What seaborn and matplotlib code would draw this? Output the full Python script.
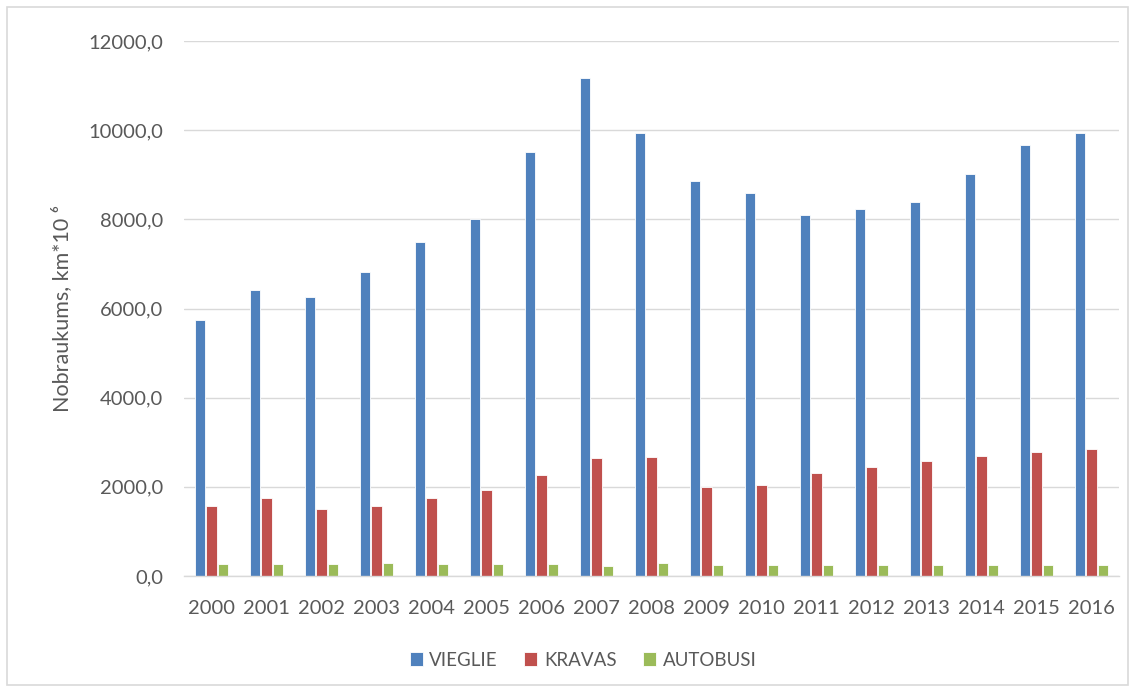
import numpy as np
import pandas as pd
import matplotlib
matplotlib.use("Agg")
import matplotlib.pyplot as plt
from matplotlib.patches import Rectangle
from matplotlib.ticker import FuncFormatter
import seaborn as sns

years = [str(y) for y in range(2000, 2017)]
vieglie = [5750, 6410, 6260, 6810, 7500, 8000, 9520, 11170, 9930,
           8870, 8580, 8090, 8240, 8380, 9010, 9670, 9930]
kravas = [1580, 1760, 1500, 1580, 1760, 1930, 2270, 2645, 2675,
          1990, 2050, 2300, 2445, 2590, 2700, 2790, 2850]
autobusi = [262, 262, 262, 291, 262, 262, 262, 233, 300,
            242, 242, 242, 242, 242, 242, 242, 242]
series_names = ["VIEGLIE", "KRAVAS", "AUTOBUSI"]
colors = ["#4F81BD", "#C0504D", "#9BBB59"]

df = pd.DataFrame({
    "year": years * 3,
    "value": vieglie + kravas + autobusi,
    "series": np.repeat(series_names, len(years)),
})

sns.set_theme(style="white")
plt.rcParams["font.family"] = ["Lato", "DejaVu Sans"]
text_color = "#595959"

fig = plt.figure(figsize=(11.35, 6.92), dpi=100)
ax = fig.add_axes([184 / 1135, 1 - 576 / 692, (1119 - 184) / 1135, (576 - 41) / 692])

sns.barplot(data=df, x="year", y="value", hue="series", palette=colors,
            saturation=1, width=0.65, gap=0.15, ax=ax, edgecolor="white",
            linewidth=0.6, legend=True)

ax.set_ylim(0, 12000)
ax.set_yticks(np.arange(0, 12001, 2000))
ax.yaxis.set_major_formatter(FuncFormatter(lambda v, p: f"{v:.1f}".replace(".", ",")))
ax.grid(axis="y", color="#D9D9D9", linewidth=1)
ax.set_axisbelow(True)
for s in ["top", "right", "left"]:
    ax.spines[s].set_visible(False)
ax.spines["bottom"].set_color("#D9D9D9")
ax.spines["bottom"].set_linewidth(1)
ax.tick_params(axis="both", length=0, labelsize=14.5, colors=text_color)
ax.tick_params(axis="y", pad=15)
ax.tick_params(axis="x", pad=17)
ax.set_xlabel("")
ax.set_ylabel("Nobraukums, km*10 ⁶", fontsize=15.5, color=text_color, labelpad=12)

handles, labels = ax.get_legend_handles_labels()
ax.get_legend().remove()
fig.legend(handles, labels, loc="center", bbox_to_anchor=(583 / 1135, 1 - 660 / 692),
           ncol=3, frameon=False, fontsize=13.5, labelcolor=text_color,
           handlelength=0.7, handleheight=0.7, handletextpad=0.35, columnspacing=1.4)

fig.patches.append(Rectangle((7 / 1135, 7 / 692), 1 - 14 / 1135, 1 - 14 / 692,
                             transform=fig.transFigure, fill=False,
                             edgecolor="#D9D9D9", linewidth=1.2))

fig.savefig("out.png", dpi=100)
